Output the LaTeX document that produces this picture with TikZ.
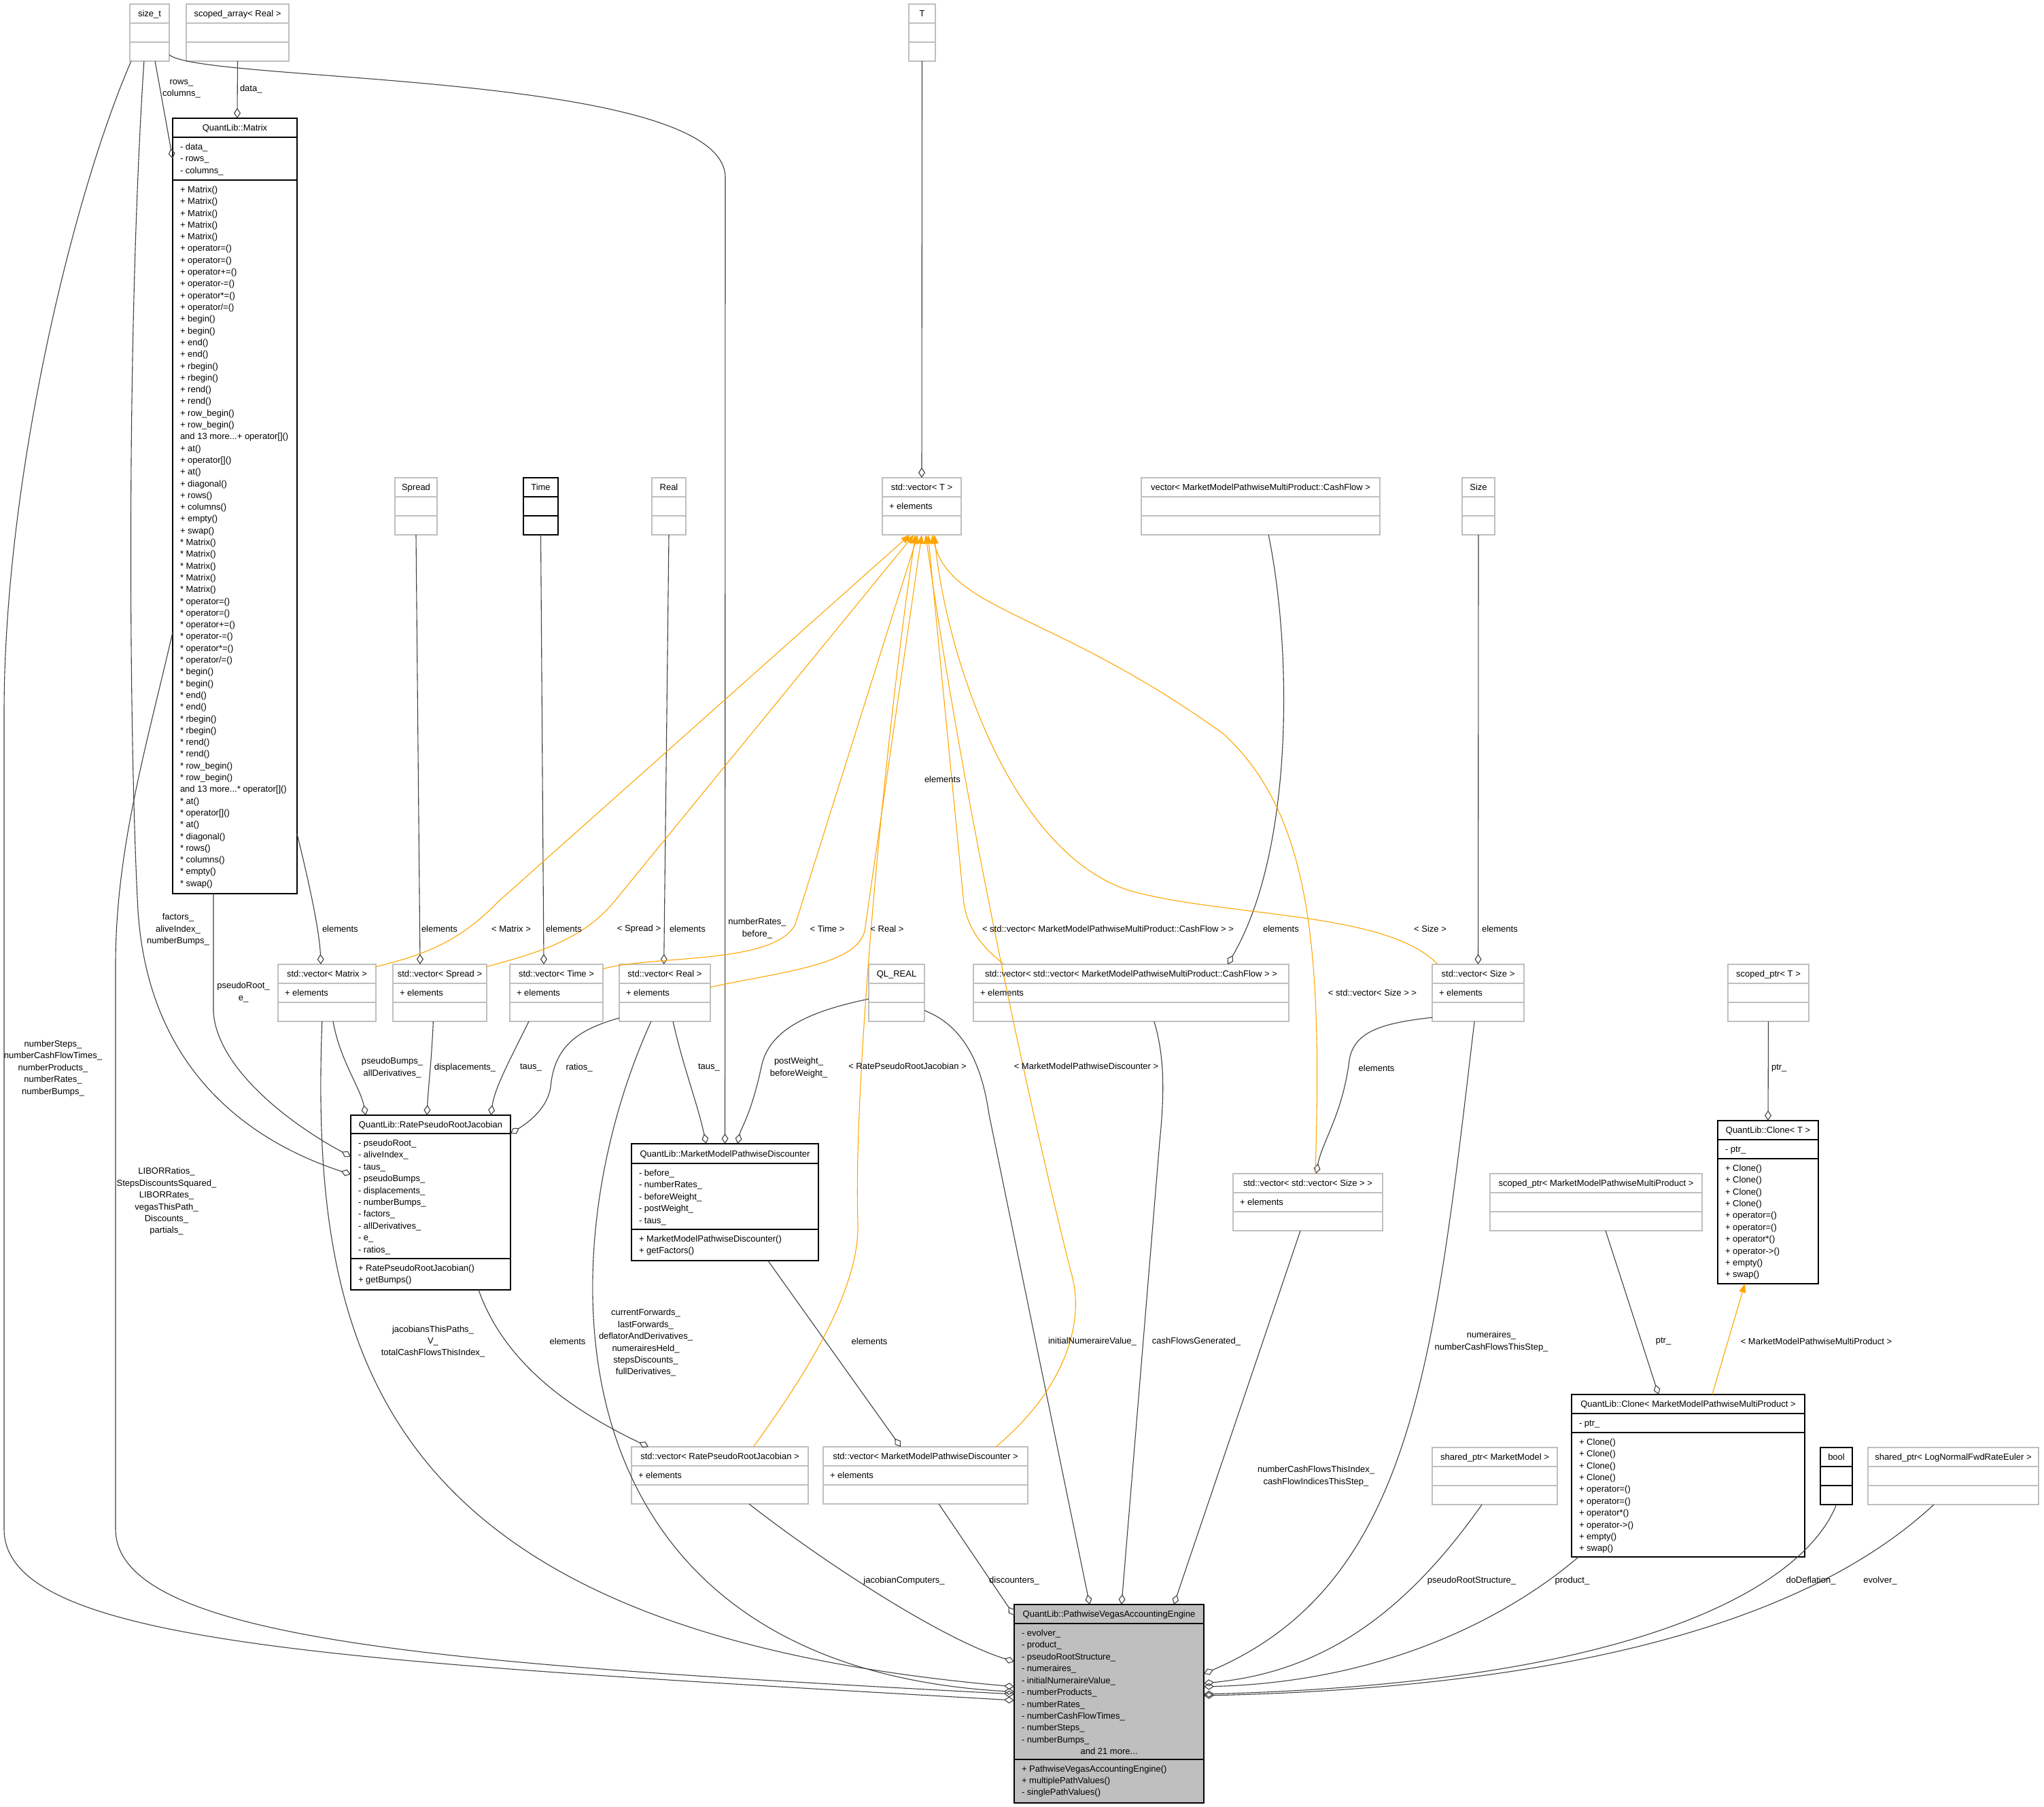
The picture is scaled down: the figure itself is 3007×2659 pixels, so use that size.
\documentclass[tikz,border=0pt]{standalone}
\usepackage{fontspec}
\setmainfont{Liberation Sans}
\usetikzlibrary{arrows.meta,calc,fit}

\definecolor{edgegray}{HTML}{404040}
\definecolor{boxgray}{HTML}{BFBFBF}
\definecolor{instorange}{HTML}{FFA500}

% three-compartment box: style, name, left, top, right, title, attribute
\newcommand\ubox[7]{%
  \node[#1, fit={(#3,#4) (#5,#4+84)}] (#2) {};
  \draw[#1] (#3,#4+28) -- (#5,#4+28) (#3,#4+56) -- (#5,#4+56);
  \node[ttl] (#2-title) at ({(#3+#5)/2},#4+18.5) {#6};
  \node[mem] (#2-attr) at (#3+10,#4+46.5) {#7};
}
% list of members, one per line: name prefix, x, first baseline, line step, items
\newcommand\members[5]{%
  \foreach \m [count=\i from 0] in {#5}
    \node[mem] (#1-\i) at (#2,#3+#4*\i) {\m};
}

\begin{document}
\begin{tikzpicture}[x=0.5pt, y=-0.5pt,
  every node/.style={inner sep=0pt, outer sep=0pt, font=\fontsize{6.5}{8.7}\selectfont},
  ext/.style={draw=boxgray, line width=0.7pt},
  cls/.style={draw=black, line width=0.8pt},
  mainbox/.style={cls, fill=boxgray},
  ttl/.style={anchor=base},
  mem/.style={anchor=base west},
  lbl/.style={align=center},
  lbll/.style={anchor=west},
  agg/.style={draw=edgegray, line width=0.55pt, -{Diamond[open, length=7.5pt, width=5pt]}},
  inst/.style={draw=instorange, line width=0.55pt, -{Triangle[length=6.5pt, width=5pt]}}]

\fill[white] (0,0) rectangle (3007,2659);
\useasboundingbox (0,0) rectangle (3007,2659);

% ---------- simple boxes ----------
\ubox{ext}{sizet}{191}{6}{249}{size\_t}{}
\ubox{ext}{scopedarray}{274}{6}{425}{scoped\_array< Real >}{}
\ubox{ext}{tT}{1337}{6}{1376}{T}{}
\ubox{ext}{spread}{581}{703}{643}{Spread}{}
\ubox{cls}{time}{770}{703}{821}{Time}{}
\ubox{ext}{real}{959}{703}{1009}{Real}{}
\ubox{ext}{vecT}{1298}{703}{1414}{std::vector< T >}{+ elements}
\ubox{ext}{vcf}{1679}{703}{2030}{vector< MarketModelPathwiseMultiProduct::CashFlow >}{}
\ubox{ext}{size}{2151}{703}{2199}{Size}{}
\ubox{ext}{vmatrix}{409}{1419}{553}{std::vector< Matrix >}{+ elements}
\ubox{ext}{vspread}{578}{1419}{716}{std::vector< Spread >}{+ elements}
\ubox{ext}{vtime}{750}{1419}{887}{std::vector< Time >}{+ elements}
\ubox{ext}{vreal}{911}{1419}{1045}{std::vector< Real >}{+ elements}
\ubox{ext}{qlreal}{1278}{1419}{1360}{QL\_REAL}{}
\ubox{ext}{vvcf}{1432}{1419}{1896}{std::vector< std::vector< MarketModelPathwiseMultiProduct::CashFlow > >}{+ elements}
\ubox{ext}{vsize}{2107}{1419}{2242}{std::vector< Size >}{+ elements}
\ubox{ext}{scopedptrT}{2542}{1419}{2661}{scoped\_ptr< T >}{}
\ubox{ext}{vvsize}{1814}{1727}{2034}{std::vector< std::vector< Size > >}{+ elements}
\ubox{ext}{scopedptrMM}{2192}{1727}{2504}{scoped\_ptr< MarketModelPathwiseMultiProduct >}{}
\ubox{ext}{vrprj}{929}{2129}{1189}{std::vector< RatePseudoRootJacobian >}{+ elements}
\ubox{ext}{vmmpd}{1211}{2129}{1512}{std::vector< MarketModelPathwiseDiscounter >}{+ elements}
\ubox{ext}{sharedMM}{2107}{2130}{2291}{shared\_ptr< MarketModel >}{}
\ubox{cls}{bool}{2678}{2130}{2725}{bool}{}
\ubox{ext}{sharedLN}{2748}{2130}{2999}{shared\_ptr< LogNormalFwdRateEuler >}{}

% ---------- QuantLib::Matrix ----------
\node[cls, fit={(254,174) (437,1315)}] (matrix) {};
\draw[cls] (254,202) -- (437,202) (254,265) -- (437,265);
\node[ttl] (matrix-title) at (345.5,192.5) {QuantLib::Matrix};
\members{matrix-a}{265}{220.5}{17.4}{- data\_, - rows\_, - columns\_}
\members{matrix-m1}{265}{283.5}{17.3}{+ Matrix(), + Matrix(), + Matrix(), + Matrix(), + Matrix(), + operator=(), + operator=(), + operator+=(), + operator-=(), + operator*=(), + operator/=(), + begin(), + begin(), + end(), + end(), + rbegin(), + rbegin(), + rend(), + rend(), + row\_begin(), + row\_begin()}
\node[mem] (matrix-more1) at (265,646.8) {and 13 more...+ operator[]()};
\members{matrix-m2}{265}{664.1}{17.3}{+ at(), + operator[](), + at(), + diagonal(), + rows(), + columns(), + empty(), + swap()}
\members{matrix-m3}{265}{802.5}{17.3}{* Matrix(), * Matrix(), * Matrix(), * Matrix(), * Matrix(), * operator=(), * operator=(), * operator+=(), * operator-=(), * operator*=(), * operator/=(), * begin(), * begin(), * end(), * end(), * rbegin(), * rbegin(), * rend(), * rend(), * row\_begin(), * row\_begin()}
\node[mem] (matrix-more2) at (265,1165.8) {and 13 more...* operator[]()};
\members{matrix-m4}{265}{1183.1}{17.3}{* at(), * operator[](), * at(), * diagonal(), * rows(), * columns(), * empty(), * swap()}

% ---------- QuantLib::RatePseudoRootJacobian ----------
\node[cls, fit={(516,1641) (751,1898)}] (rprj) {};
\draw[cls] (516,1668) -- (751,1668) (516,1852) -- (751,1852);
\node[ttl] (rprj-title) at (633.5,1659) {QuantLib::RatePseudoRootJacobian};
\members{rprj-a}{527}{1686.5}{17.4}{- pseudoRoot\_, - aliveIndex\_, - taus\_, - pseudoBumps\_, - displacements\_, - numberBumps\_, - factors\_, - allDerivatives\_, - e\_, - ratios\_}
\members{rprj-m}{527}{1870.5}{17.2}{+ RatePseudoRootJacobian(), + getBumps()}

% ---------- QuantLib::MarketModelPathwiseDiscounter ----------
\node[cls, fit={(929,1683) (1204,1855)}] (mmpd) {};
\draw[cls] (929,1712) -- (1204,1712) (929,1809) -- (1204,1809);
\node[ttl] (mmpd-title) at (1066.5,1702) {QuantLib::MarketModelPathwiseDiscounter};
\members{mmpd-a}{940}{1730.5}{17.4}{- before\_, - numberRates\_, - beforeWeight\_, - postWeight\_, - taus\_}
\members{mmpd-m}{940}{1827.5}{17.4}{+ MarketModelPathwiseDiscounter(), + getFactors()}

% ---------- QuantLib::Clone< T > ----------
\node[cls, fit={(2527,1649) (2675,1889)}] (cloneT) {};
\draw[cls] (2527,1677) -- (2675,1677) (2527,1705) -- (2675,1705);
\node[ttl] (cloneT-title) at (2601,1667.5) {QuantLib::Clone< T >};
\members{cloneT-a}{2538}{1695.5}{17.4}{- ptr\_}
\members{cloneT-m}{2538}{1723.5}{17.36}{+ Clone(), + Clone(), + Clone(), + Clone(), + operator=(), + operator=(), + operator*(), + operator->(), + empty(), + swap()}

% ---------- QuantLib::Clone< MarketModelPathwiseMultiProduct > ----------
\node[cls, fit={(2312,2052) (2655,2291)}] (cloneMM) {};
\draw[cls] (2312,2080) -- (2655,2080) (2312,2108) -- (2655,2108);
\node[ttl] (cloneMM-title) at (2483.5,2070.5) {QuantLib::Clone< MarketModelPathwiseMultiProduct >};
\members{cloneMM-a}{2323}{2098.5}{17.4}{- ptr\_}
\members{cloneMM-m}{2323}{2126.5}{17.36}{+ Clone(), + Clone(), + Clone(), + Clone(), + operator=(), + operator=(), + operator*(), + operator->(), + empty(), + swap()}

% ---------- QuantLib::PathwiseVegasAccountingEngine ----------
\node[mainbox, fit={(1492,2361) (1771,2653)}] (main) {};
\draw[cls] (1492,2389) -- (1771,2389) (1492,2589) -- (1771,2589);
\node[ttl] (main-title) at (1631.5,2379.5) {QuantLib::PathwiseVegasAccountingEngine};
\members{main-a}{1503}{2407.5}{17.43}{- evolver\_, - product\_, - pseudoRootStructure\_, - numeraires\_, - initialNumeraireValue\_, - numberProducts\_, - numberRates\_, - numberCashFlowTimes\_, - numberSteps\_, - numberBumps\_}
\node[ttl] (main-more) at (1631.5,2581) {and 21 more...};
\members{main-m}{1503}{2607.8}{17}{+ PathwiseVegasAccountingEngine(), + multiplePathValues(), - singlePathValues()}

% ---------- aggregation edges ----------
\draw[agg] ($(sizet.south west)!.64!(sizet.south east)$) -- ($(matrix.north west)!.052!(matrix.south west)$);
\draw[agg] (scopedarray.south) -- ($(matrix.north west)!.519!(matrix.north east)$);
\draw[agg] ($(sizet.north east)!.89!(sizet.south east)$) .. controls (300,122) and (1062,105) .. (1067,260) -- (mmpd.north);
\draw[agg] ($(sizet.south west)!.36!(sizet.south east)$) .. controls (185,500) and (190,1100) .. (203,1340) .. controls (220,1600) and (400,1690) .. ($(rprj.north west)!.339!(rprj.south west)$);
\draw[agg] ($(matrix.south west)!.328!(matrix.south east)$) -- (314,1490) .. controls (320,1570) and (420,1650) .. ($(rprj.north west)!.237!(rprj.south west)$);
\draw[agg] ($(sizet.south west)!.034!(sizet.south east)$) .. controls (110,280) and (6,700) .. (6,1050) -- (6,2250) .. controls (6,2420) and (500,2445) .. ($(main.north west)!.483!(main.south west)$);
\draw[agg] ($(matrix.north west)!.663!(matrix.south west)$) .. controls (215,1100) and (170,1250) .. (170,1420) -- (170,2250) .. controls (170,2420) and (700,2450) .. ($(main.north west)!.452!(main.south west)$);
\draw[agg] ($(vmatrix.south west)!.45!(vmatrix.south east)$) .. controls (455,2000) and (560,2400) .. ($(main.north west)!.414!(main.south west)$);
\draw[agg] ($(vreal.south west)!.35!(vreal.south east)$) .. controls (800,1850) and (800,2450) .. ($(main.north west)!.44!(main.south west)$);
\draw[agg] ($(vrprj.south west)!.665!(vrprj.south east)$) .. controls (1200,2290) and (1380,2410) .. ($(main.north west)!.288!(main.south west)$);
\draw[agg] ($(vmmpd.south west)!.565!(vmmpd.south east)$) -- ($(main.north west)!.055!(main.south west)$);
\draw[agg] ($(qlreal.north east)!.81!(qlreal.south east)$) .. controls (1420,1510) and (1445,1570) .. (1455,1640) -- ($(main.north west)!.398!(main.north east)$);
\draw[agg] ($(vvcf.south west)!.573!(vvcf.south east)$) .. controls (1715,1560) and (1712,1620) .. (1706,1680) -- ($(main.north west)!.566!(main.north east)$);
\draw[agg] ($(vvsize.south west)!.45!(vvsize.south east)$) -- ($(main.north west)!.842!(main.north east)$);
\draw[agg] ($(vsize.south west)!.46!(vsize.south east)$) .. controls (2110,2000) and (2080,2330) .. ($(main.north east)!.349!(main.south east)$);
\draw[agg] ($(sharedMM.south west)!.397!(sharedMM.south east)$) .. controls (2070,2370) and (1950,2460) .. ($(main.north east)!.397!(main.south east)$);
\draw[agg] ($(cloneMM.south west)!.03!(cloneMM.south east)$) .. controls (2230,2370) and (2050,2475) .. ($(main.north east)!.414!(main.south east)$);
\draw[agg] (bool.south) .. controls (2660,2320) and (2450,2475) .. ($(main.north east)!.452!(main.south east)$);
\draw[agg] ($(sharedLN.south west)!.386!(sharedLN.south east)$) .. controls (2720,2330) and (2450,2480) .. ($(main.north east)!.459!(main.south east)$);
\draw[agg] (tT.south) -- (vecT.north);
\draw[agg] ($(matrix.north east)!.923!(matrix.south east)$) .. controls (455,1300) and (470,1370) .. ($(vmatrix.north west)!.4375!(vmatrix.north east)$);
\draw[agg] (spread.south) -- ($(vspread.north west)!.29!(vspread.north east)$);
\draw[agg] (time.south) -- ($(vtime.north west)!.365!(vtime.north east)$);
\draw[agg] (real.south) -- ($(vreal.north west)!.49!(vreal.north east)$);
\draw[agg] ($(vcf.south west)!.533!(vcf.south east)$) .. controls (1900,950) and (1905,1250) .. ($(vvcf.north west)!.806!(vvcf.north east)$);
\draw[agg] (size.south) -- (vsize.north);
\draw[agg] (scopedptrT.south) -- (cloneT.north);
\draw[agg] ($(vsize.north west)!.93!(vsize.south west)$) .. controls (2040,1505) and (1992,1515) .. (1985,1560) .. controls (1975,1640) and (1945,1680) .. ($(vvsize.north west)!.555!(vvsize.north east)$);
\draw[agg] ($(rprj.south west)!.8!(rprj.south east)$) .. controls (740,2000) and (830,2070) .. ($(vrprj.north west)!.096!(vrprj.north east)$);
\draw[agg] ($(mmpd.south west)!.73!(mmpd.south east)$) -- ($(vmmpd.north west)!.379!(vmmpd.north east)$);
\draw[agg] ($(vmatrix.south west)!.5625!(vmatrix.south east)$) .. controls (500,1560) and (530,1600) .. ($(rprj.north west)!.094!(rprj.north east)$);
\draw[agg] ($(vspread.south west)!.43!(vspread.south east)$) .. controls (635,1560) and (630,1600) .. ($(rprj.north west)!.477!(rprj.north east)$);
\draw[agg] ($(vtime.south west)!.204!(vtime.south east)$) .. controls (750,1560) and (728,1600) .. ($(rprj.north west)!.877!(rprj.north east)$);
\draw[agg] ($(vreal.north west)!.94!(vreal.south west)$) .. controls (850,1515) and (815,1540) .. (810,1600) .. controls (805,1630) and (780,1650) .. ($(rprj.north east)!.105!(rprj.south east)$);
\draw[agg] ($(vreal.south west)!.59!(vreal.south east)$) .. controls (1005,1570) and (1025,1620) .. ($(mmpd.north west)!.4!(mmpd.north east)$);
\draw[agg] ($(qlreal.north west)!.607!(qlreal.south west)$) .. controls (1180,1490) and (1130,1520) .. (1120,1570) .. controls (1105,1640) and (1090,1660) .. ($(mmpd.north west)!.567!(mmpd.north east)$);
\draw[agg] ($(scopedptrMM.south west)!.545!(scopedptrMM.south east)$) -- ($(cloneMM.north west)!.373!(cloneMM.north east)$);

% ---------- template instantiation edges ----------
\draw[inst] ($(vmatrix.north east)!.04!(vmatrix.south east)$) .. controls (650,1400) and (690,1370) .. (735,1325) -- ($(vecT.south west)!.35!(vecT.south east)$);
\draw[inst] ($(vspread.north east)!.04!(vspread.south east)$) .. controls (800,1400) and (860,1380) .. (905,1325) -- ($(vecT.south west)!.4!(vecT.south east)$);
\draw[inst] ($(vtime.north east)!.08!(vtime.south east)$) .. controls (960,1405) and (1140,1420) .. (1170,1360) -- ($(vecT.south west)!.45!(vecT.south east)$);
\draw[inst] ($(vreal.north east)!.4!(vreal.south east)$) .. controls (1150,1430) and (1260,1420) .. (1272,1370) -- ($(vecT.south west)!.5!(vecT.south east)$);
\draw[inst] ($(vvcf.north west)!.097!(vvcf.north east)$) .. controls (1440,1390) and (1420,1360) .. (1417,1320) -- ($(vecT.south west)!.58!(vecT.south east)$);
\draw[inst] ($(vsize.north west)!.06!(vsize.north east)$) .. controls (2040,1340) and (1800,1350) .. (1660,1310) .. controls (1480,1250) and (1390,950) .. ($(vecT.south west)!.66!(vecT.south east)$);
\draw[inst] ($(vvsize.north west)!.55!(vvsize.north east)$) .. controls (1945,1400) and (1930,1200) .. (1800,1080) .. controls (1550,900) and (1400,900) .. ($(vecT.south west)!.63!(vecT.south east)$);
\draw[inst] ($(vrprj.north west)!.69!(vrprj.north east)$) .. controls (1180,2030) and (1265,1900) .. (1262,1800) .. controls (1255,1600) and (1300,1100) .. ($(vecT.south west)!.42!(vecT.south east)$);
\draw[inst] ($(vmmpd.north west)!.844!(vmmpd.north east)$) .. controls (1560,2050) and (1600,1950) .. (1575,1870) .. controls (1520,1650) and (1420,1200) .. ($(vecT.south west)!.55!(vecT.south east)$);
\draw[inst] ($(cloneMM.north west)!.603!(cloneMM.north east)$) -- ($(cloneT.south west)!.27!(cloneT.south east)$);

% ---------- edge labels ----------
\node[lbl] (l-rows) at (267,131) {rows\_\\columns\_};
\node[lbll] (l-data) at (353,131) {data\_};
\node[lbl] (l-nr) at (1114,1366) {numberRates\_\\before\_};
\node[lbl] (l-factors) at (262,1368) {factors\_\\aliveIndex\_\\numberBumps\_};
\node[lbl] (l-pseudo) at (358,1460) {pseudoRoot\_\\e\_};
\node[lbl] (l-nsteps) at (78,1572) {numberSteps\_\\numberCashFlowTimes\_\\numberProducts\_\\numberRates\_\\numberBumps\_};
\node[lbl] (l-libor) at (245,1768) {LIBORRatios\_\\StepsDiscountsSquared\_\\LIBORRates\_\\vegasThisPath\_\\Discounts\_\\partials\_};
\node[lbl] (l-jac) at (637,1974) {jacobiansThisPaths\_\\V\_\\totalCashFlowsThisIndex\_};
\node[lbl] (l-fwd) at (950,1976) {currentForwards\_\\lastForwards\_\\deflatorAndDerivatives\_\\numerairesHeld\_\\stepsDiscounts\_\\fullDerivatives\_};
\node[lbl] (l-jcomp) at (1330,2326) {jacobianComputers\_};
\node[lbl] (l-disc) at (1492,2326) {discounters\_};
\node[lbl] (l-init) at (1607,1974) {initialNumeraireValue\_};
\node[lbl] (l-cfg) at (1760,1974) {cashFlowsGenerated\_};
\node[lbl] (l-ncf) at (1936,2172) {numberCashFlowsThisIndex\_\\cashFlowIndicesThisStep\_};
\node[lbl] (l-num) at (2194,1974) {numeraires\_\\numberCashFlowsThisStep\_};
\node[lbl] (l-prs) at (2165,2326) {pseudoRootStructure\_};
\node[lbl] (l-prod) at (2313,2326) {product\_};
\node[lbl] (l-defl) at (2664,2326) {doDeflation\_};
\node[lbl] (l-evol) at (2766,2326) {evolver\_};
\node[lbll] (l-elT) at (1360,1147) {elements};
\node[lbll] (l-elM) at (474,1367) {elements};
\node[lbll] (l-elS) at (620,1367) {elements};
\node[lbll] (l-elTi) at (803,1367) {elements};
\node[lbll] (l-elR) at (985,1367) {elements};
\node[lbll] (l-elCF) at (1858,1367) {elements};
\node[lbll] (l-elSz) at (2180,1367) {elements};
\node[lbll] (l-ptrT) at (2606,1572) {ptr\_};
\node[lbl] (l-elVS) at (2025,1572) {elements};
\node[lbl] (l-elRJ) at (835,1974) {elements};
\node[lbl] (l-elMD) at (1279,1974) {elements};
\node[lbl] (l-pb) at (577,1571) {pseudoBumps\_\\allDerivatives\_};
\node[lbl] (l-disp) at (684,1571) {displacements\_};
\node[lbl] (l-taus1) at (781,1571) {taus\_};
\node[lbl] (l-ratios) at (852,1571) {ratios\_};
\node[lbl] (l-taus2) at (1043,1571) {taus\_};
\node[lbl] (l-pw) at (1175,1571) {postWeight\_\\beforeWeight\_};
\node[lbl] (l-iM) at (752,1367) {< Matrix >};
\node[lbl] (l-iS) at (940,1367) {< Spread >};
\node[lbl] (l-iT) at (1217,1367) {< Time >};
\node[lbl] (l-iR) at (1305,1367) {< Real >};
\node[lbl] (l-iCF) at (1630,1367) {< std::vector< MarketModelPathwiseMultiProduct::CashFlow > >};
\node[lbl] (l-iSz) at (2104,1367) {< Size >};
\node[lbl] (l-iVS) at (2019,1461) {< std::vector< Size > >};
\node[lbl] (l-iRJ) at (1335,1569) {< RatePseudoRootJacobian >};
\node[lbl] (l-iMD) at (1598,1569) {< MarketModelPathwiseDiscounter >};
\node[lbl] (l-iMP) at (2672,1974) {< MarketModelPathwiseMultiProduct >};
\node[lbl] (l-ptrMM) at (2447,1974) {ptr\_};

\end{tikzpicture}
\end{document}
